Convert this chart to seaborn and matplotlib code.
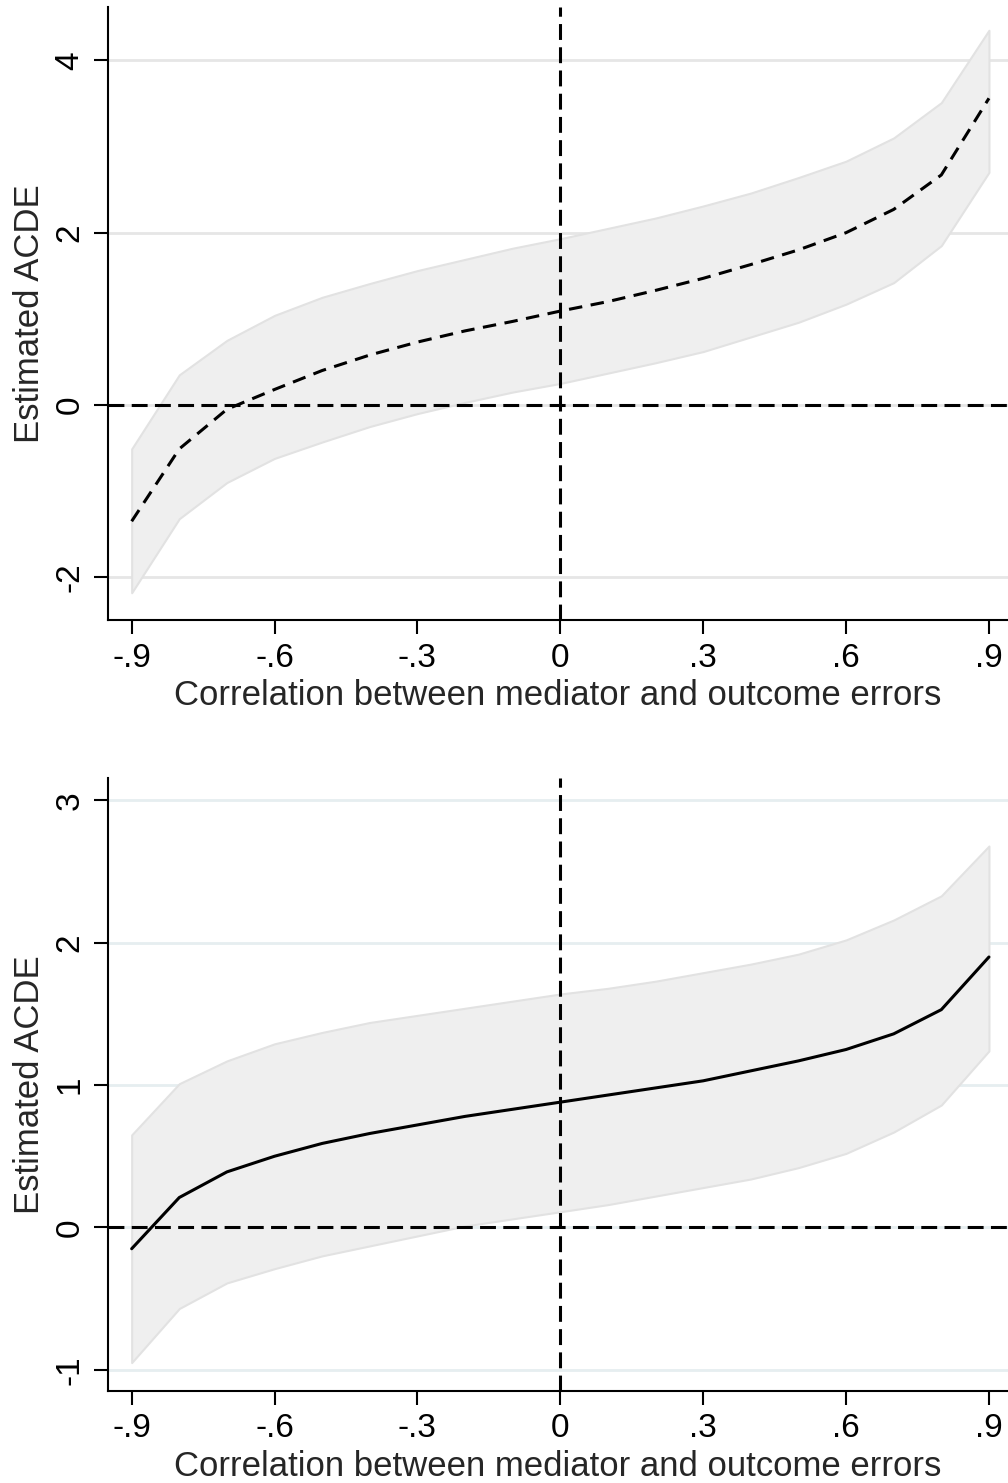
import numpy as np
import pandas as pd
import matplotlib
matplotlib.use("Agg")
import matplotlib.pyplot as plt
import seaborn as sns

rho = [-0.9, -0.8, -0.7, -0.6, -0.5, -0.4, -0.3, -0.2, -0.1, 0.0,
       0.1, 0.2, 0.3, 0.4, 0.5, 0.6, 0.7, 0.8, 0.9]

top_est = [-1.35, -0.51, -0.05, 0.18, 0.40, 0.58, 0.73, 0.86, 0.97, 1.09,
           1.20, 1.33, 1.47, 1.63, 1.80, 2.00, 2.27, 2.67, 3.56]
top_hi = [-0.51, 0.35, 0.75, 1.04, 1.25, 1.41, 1.56, 1.69, 1.82, 1.93,
          2.05, 2.17, 2.31, 2.46, 2.64, 2.83, 3.10, 3.51, 4.35]
top_lo = [-2.18, -1.32, -0.90, -0.62, -0.43, -0.25, -0.10, 0.03, 0.15, 0.25,
          0.37, 0.49, 0.62, 0.79, 0.96, 1.17, 1.42, 1.85, 2.70]

bot_est = [-0.15, 0.21, 0.39, 0.50, 0.59, 0.66, 0.72, 0.78, 0.83, 0.88,
           0.93, 0.98, 1.03, 1.10, 1.17, 1.25, 1.36, 1.53, 1.90]
bot_hi = [0.65, 1.01, 1.17, 1.29, 1.37, 1.44, 1.49, 1.54, 1.59, 1.64,
          1.68, 1.73, 1.79, 1.85, 1.92, 2.02, 2.16, 2.33, 2.68]
bot_lo = [-0.95, -0.57, -0.39, -0.29, -0.20, -0.13, -0.06, 0.01, 0.06, 0.11,
          0.16, 0.22, 0.28, 0.34, 0.42, 0.52, 0.67, 0.86, 1.24]

x_ticks = [-0.9, -0.6, -0.3, 0.0, 0.3, 0.6, 0.9]
x_ticklabels = ["-.9", "-.6", "-.3", "0", ".3", ".6", ".9"]
top_yticks = [-2, 0, 2, 4]
bot_yticks = [-1, 0, 1, 2, 3]
xlabel = "Correlation between mediator and outcome errors"
ylabel = "Estimated ACDE"

sns.set_theme(style="white")
plt.rcParams['font.family'] = ['Liberation Sans', 'DejaVu Sans']

fig = plt.figure(figsize=(10.08, 14.83), dpi=100)
ax1 = fig.add_axes([0.107, 0.5817, 0.893, 0.4136])
ax2 = fig.add_axes([0.107, 0.0620, 0.893, 0.4136])

def draw(ax, est, lo, hi, yticks, ylim, ls, gridcolor):
    df = pd.DataFrame({"rho": rho, "est": est, "lo": lo, "hi": hi})
    for yt in yticks:
        ax.axhline(yt, color=gridcolor, lw=2.0, zorder=0)
    ax.fill_between(df["rho"], df["lo"], df["hi"], facecolor="#efefef",
                    edgecolor="#e2e2e2", lw=1.5, zorder=1)
    sns.lineplot(data=df, x="rho", y="est", ax=ax, color="black", lw=2.2,
                 linestyle=ls, zorder=3)
    ax.axhline(0, color="black", lw=2.2, ls=(0, (5.2, 2.4)), zorder=4)
    ax.axvline(0, color="black", lw=2.2, ls=(0, (5.2, 2.4)), zorder=4)
    ax.set_xlim(-0.95, 0.94)
    ax.set_ylim(*ylim)
    ax.set_xticks(x_ticks)
    ax.set_xticklabels(x_ticklabels)
    ax.set_yticks(yticks)
    ax.set_yticklabels([str(v) for v in yticks], rotation=90, va="center")
    ax.tick_params(axis="both", direction="out", length=10, width=1.5,
                   labelsize=24, colors="black", pad=6)
    ax.tick_params(axis="both", bottom=True, left=True)
    for s in ["top", "right"]:
        ax.spines[s].set_visible(False)
    for s in ["left", "bottom"]:
        ax.spines[s].set_color("black")
        ax.spines[s].set_linewidth(1.5)
    ax.set_xlabel(xlabel, fontsize=25, labelpad=4)
    ax.set_ylabel(ylabel, fontsize=25, labelpad=6)
    ax.set_facecolor("white")

draw(ax1, top_est, top_lo, top_hi, top_yticks, (-2.5, 4.62), (0, (4.4, 2.8)), "#e6e6e6")
draw(ax2, bot_est, bot_lo, bot_hi, bot_yticks, (-1.15, 3.16), "-", "#e6eef0")

fig.savefig("out.png", dpi=100, facecolor="white")
